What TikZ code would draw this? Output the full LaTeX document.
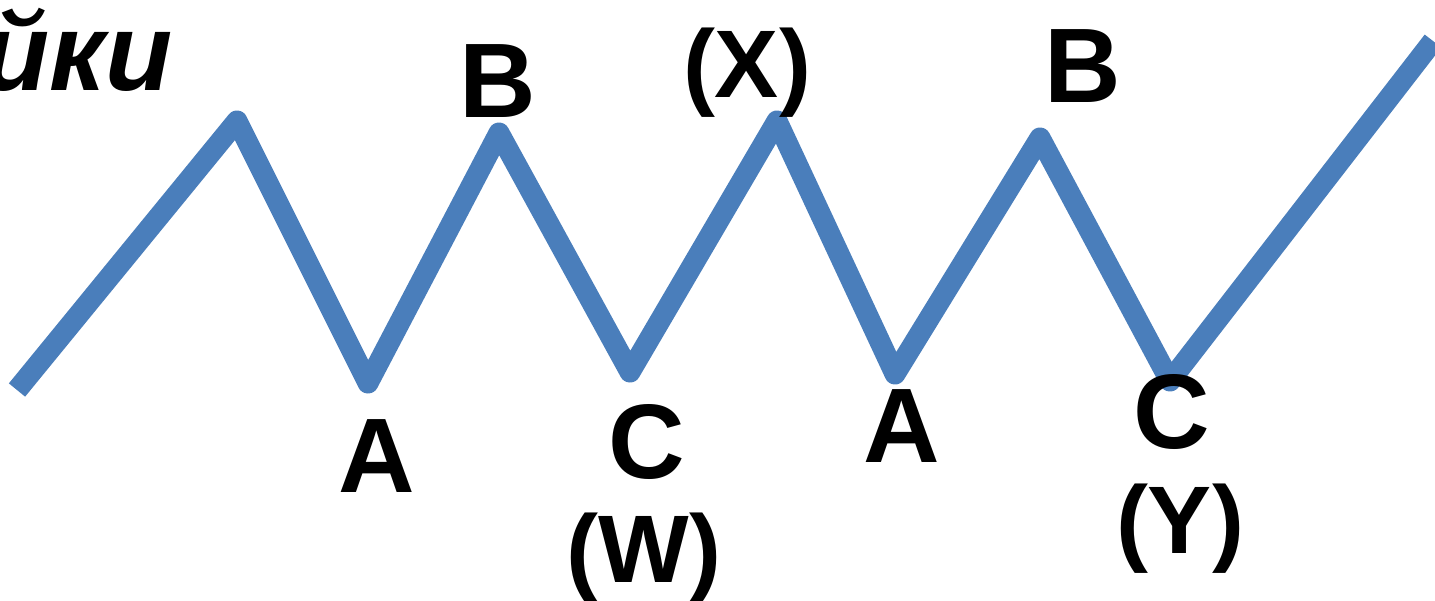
\documentclass[tikz,border=0pt]{standalone}
\usepackage{fontspec}
\setmainfont{Liberation Sans}
\definecolor{wellenblau}{RGB}{74,126,187}
\begin{document}
\begin{tikzpicture}[
        x=1pt, y=-1pt,
        welle/.style={draw=wellenblau, line width=21pt, line join=round},
        marke/.style={anchor=base, inner sep=0pt, font=\fontsize{106}{110}\selectfont\bfseries},
        klammer/.style={anchor=base, inner sep=0pt, font=\fontsize{96}{100}\selectfont\bfseries},
        titel/.style={anchor=base east, inner sep=0pt, font=\fontsize{110}{114}\selectfont\bfseries\itshape}
    ]
        \useasboundingbox (0,0) rectangle (1435,600);
        \clip (0,0) rectangle (1435,600);

        % Eckpunkte der Welle
        \coordinate (start) at (17,390);
        \coordinate (top1) at (237,121);
        \coordinate (a1) at (368,383);
        \coordinate (b1) at (499,133);
        \coordinate (c1) at (630,372);
        \coordinate (x) at (777,121);
        \coordinate (a2) at (895,374);
        \coordinate (b2) at (1040,138);
        \coordinate (c2) at (1170,381);
        \coordinate (ende) at (1433,41);

        \draw[welle] (start) -- (top1) -- (a1) -- (b1) -- (c1) -- (x) -- (a2) -- (b2) -- (c2) -- (ende);

        \node[titel] (titel) at (173,90) {йки};
        \node[marke] (lA1) at (377,492) {A};
        \node[marke] (lB1) at (498,117) {B};
        \node[marke] (lC1) at (647,478) {C};
        \node[klammer] (lW) at (644,582) {(W)};
        \node[klammer] (lX) at (747,97) {(X)};
        \node[marke] (lA2) at (902,462) {A};
        \node[marke] (lB2) at (1083,102) {B};
        \node[marke] (lC2) at (1172,448) {C};
        \node[klammer] (lY) at (1180,553) {(Y)};
    \end{tikzpicture}
\end{document}
